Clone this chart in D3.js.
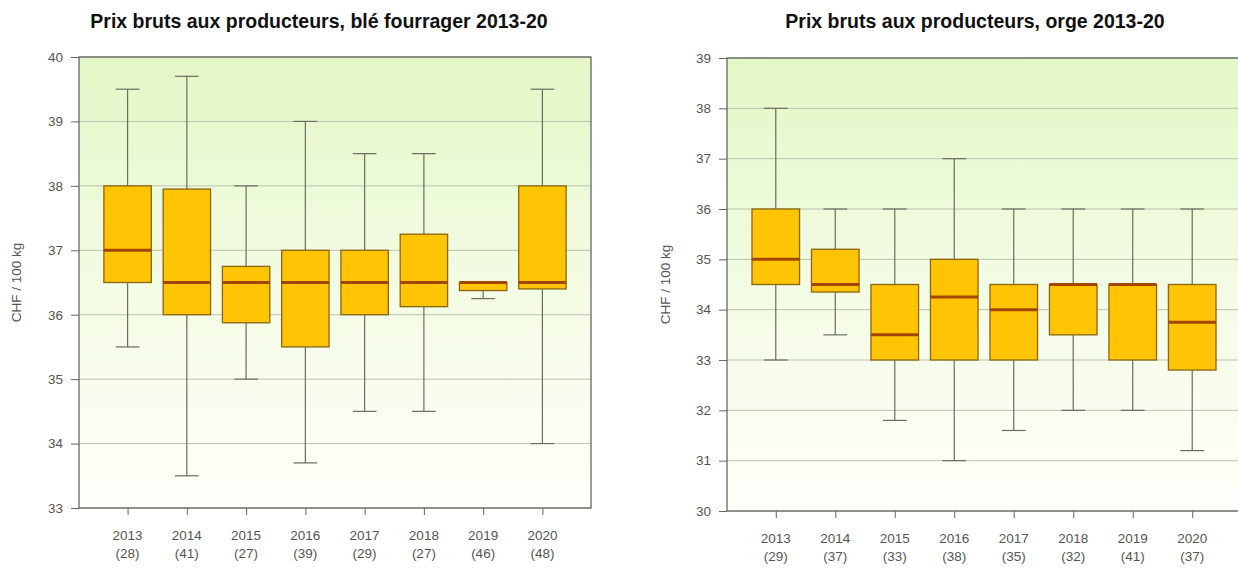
<!DOCTYPE html>
<html>
<head>
<meta charset="utf-8">
<script src="https://cdn.jsdelivr.net/npm/d3@7"></script>
<style>
  body { margin: 0; background: #fff; }
  svg { display: block; font-family: "Liberation Sans", Arial, sans-serif; }
  .tick text { fill: #555; font-size: 13.5px; }
  .title { font-weight: bold; font-size: 19.5px; fill: #111; }
  .ylab { font-size: 13.5px; fill: #555; }
</style>
</head>
<body>
<div id="chart"></div>
<script>
// Data //

let years = ["2013", "2014", "2015", "2016", "2017", "2018", "2019", "2020"];

let bleCounts = [28, 41, 27, 39, 29, 27, 46, 48];
let bleMin = [35.5, 33.5, 35.0, 33.7, 34.5, 34.5, 36.25, 34.0];
let bleQ1 = [36.5, 36.0, 35.875, 35.5, 36.0, 36.125, 36.375, 36.4];
let bleMed = [37.0, 36.5, 36.5, 36.5, 36.5, 36.5, 36.5, 36.5];
let bleQ3 = [38.0, 37.95, 36.75, 37.0, 37.0, 37.25, 36.5, 38.0];
let bleMax = [39.5, 39.7, 38.0, 39.0, 38.5, 38.5, 36.5, 39.5];

let orgeCounts = [29, 37, 33, 38, 35, 32, 41, 37];
let orgeMin = [33.0, 33.5, 31.8, 31.0, 31.6, 32.0, 32.0, 31.2];
let orgeQ1 = [34.5, 34.35, 33.0, 33.0, 33.0, 33.5, 33.0, 32.8];
let orgeMed = [35.0, 34.5, 33.5, 34.25, 34.0, 34.5, 34.5, 33.75];
let orgeQ3 = [36.0, 35.2, 34.5, 35.0, 34.5, 34.5, 34.5, 34.5];
let orgeMax = [38.0, 36.0, 36.0, 37.0, 36.0, 36.0, 36.0, 36.0];

let bleTicks = [33, 34, 35, 36, 37, 38, 39, 40];
let orgeTicks = [30, 31, 32, 33, 34, 35, 36, 37, 38, 39];

// Chart setup //

let SVGwidth = 1238,
    SVGheight = 569;

let svg = d3.select("#chart").append("svg")
    .attr("width", SVGwidth)
    .attr("height", SVGheight);

let defs = svg.append("defs");
let grad = defs.append("linearGradient")
    .attr("id", "bg")
    .attr("x1", 0).attr("y1", 0)
    .attr("x2", 0).attr("y2", 1);
grad.append("stop").attr("offset", "0%").attr("stop-color", "#e4f7c6");
grad.append("stop").attr("offset", "55%").attr("stop-color", "#f4fce6");
grad.append("stop").attr("offset", "100%").attr("stop-color", "#fffffa");

function buildRows(counts, mins, q1s, meds, q3s, maxs) {
    return years.map(function(y, i) {
        return {year: y, n: counts[i], min: mins[i], q1: q1s[i], med: meds[i], q3: q3s[i], max: maxs[i], pos: i + 1};
    });
}

function drawPanel(opt) {
    let g = svg.append("g");
    let data = opt.rows;

    let xScale = d3.scaleLinear().domain([0.18, 8.82]).range([opt.left, opt.right]);
    let yScale = d3.scaleLinear().domain(opt.yDomain).range([opt.bottom, opt.top]);

    // background
    g.append("rect")
        .attr("x", opt.left)
        .attr("y", opt.top)
        .attr("width", opt.right - opt.left)
        .attr("height", opt.bottom - opt.top)
        .style("fill", "url(#bg)");

    // grid
    g.selectAll(".grid")
        .data(opt.ticks)
        .enter().append("line")
        .attr("class", "grid")
        .attr("x1", opt.left)
        .attr("x2", opt.right)
        .attr("y1", function(d) { return yScale(d); })
        .attr("y2", function(d) { return yScale(d); })
        .style("stroke", "#b9c2ad")
        .style("stroke-width", 1);

    // boxes
    let boxW = xScale(0.8) - xScale(0);
    let capW = xScale(0.4) - xScale(0);
    let box = g.selectAll(".box")
        .data(data)
        .enter().append("g")
        .attr("class", "box");

    box.append("line")
        .attr("x1", function(d) { return xScale(d.pos); })
        .attr("x2", function(d) { return xScale(d.pos); })
        .attr("y1", function(d) { return yScale(d.max); })
        .attr("y2", function(d) { return yScale(d.min); })
        .style("stroke", "#6b6b62")
        .style("stroke-width", 1.2);

    box.append("line")
        .attr("x1", function(d) { return xScale(d.pos) - capW / 2; })
        .attr("x2", function(d) { return xScale(d.pos) + capW / 2; })
        .attr("y1", function(d) { return yScale(d.max); })
        .attr("y2", function(d) { return yScale(d.max); })
        .style("stroke", "#6b6b62")
        .style("stroke-width", 1.2);

    box.append("line")
        .attr("x1", function(d) { return xScale(d.pos) - capW / 2; })
        .attr("x2", function(d) { return xScale(d.pos) + capW / 2; })
        .attr("y1", function(d) { return yScale(d.min); })
        .attr("y2", function(d) { return yScale(d.min); })
        .style("stroke", "#6b6b62")
        .style("stroke-width", 1.2);

    box.append("rect")
        .attr("x", function(d) { return xScale(d.pos) - boxW / 2; })
        .attr("width", boxW)
        .attr("y", function(d) { return yScale(d.q3); })
        .attr("height", function(d) { return yScale(d.q1) - yScale(d.q3); })
        .style("fill", "#ffc505")
        .style("stroke", "#8a6512")
        .style("stroke-width", 1.3);

    box.append("line")
        .attr("x1", function(d) { return xScale(d.pos) - boxW / 2; })
        .attr("x2", function(d) { return xScale(d.pos) + boxW / 2; })
        .attr("y1", function(d) { return yScale(d.med); })
        .attr("y2", function(d) { return yScale(d.med); })
        .style("stroke", "#a34603")
        .style("stroke-width", 3);

    // frame
    g.append("rect")
        .attr("x", opt.left)
        .attr("y", opt.top)
        .attr("width", opt.right - opt.left)
        .attr("height", opt.bottom - opt.top)
        .style("fill", "none")
        .style("stroke", "#5a5a5a")
        .style("stroke-width", 1.2);

    // axes
    let yAxis = d3.axisLeft(yScale).tickValues(opt.ticks).tickSize(8).tickPadding(8).tickFormat(d3.format("d"));
    let ya = g.append("g")
        .attr("transform", "translate(" + opt.left + ",0)")
        .call(yAxis);
    ya.select(".domain").remove();
    ya.selectAll(".tick line").style("stroke", "#666");

    let xAxis = d3.axisBottom(xScale).tickValues(data.map(function(d) { return d.pos; })).tickSize(7).tickFormat("");
    let xa = g.append("g")
        .attr("transform", "translate(0," + opt.bottom + ")")
        .call(xAxis);
    xa.select(".domain").remove();
    xa.selectAll(".tick line").style("stroke", "#666");

    let labels = g.selectAll(".xlab")
        .data(data)
        .enter().append("text")
        .attr("class", "xlab")
        .attr("x", function(d) { return xScale(d.pos); })
        .attr("y", opt.bottom + 32)
        .style("text-anchor", "middle")
        .style("font-size", "13.5px")
        .style("fill", "#555");
    labels.append("tspan").text(function(d) { return d.year; });
    labels.append("tspan")
        .attr("x", function(d) { return xScale(d.pos); })
        .attr("dy", "1.3em")
        .text(function(d) { return "(" + d.n + ")"; });

    g.append("text")
        .attr("class", "ylab")
        .attr("transform", "translate(" + opt.ylabX + "," + ((opt.top + opt.bottom) / 2) + ") rotate(-90)")
        .style("text-anchor", "middle")
        .text("CHF / 100 kg");

    g.append("text")
        .attr("class", "title")
        .attr("x", opt.titleX)
        .attr("y", 28)
        .style("text-anchor", "middle")
        .text(opt.title);
}

drawPanel({
    rows: buildRows(bleCounts, bleMin, bleQ1, bleMed, bleQ3, bleMax),
    left: 79, right: 591, top: 57, bottom: 508,
    yDomain: [33, 40], ticks: bleTicks,
    ylabX: 21, titleX: 319,
    title: "Prix bruts aux producteurs, blé fourrager 2013-20"
});

drawPanel({
    rows: buildRows(orgeCounts, orgeMin, orgeQ1, orgeMed, orgeQ3, orgeMax),
    left: 727, right: 1241, top: 58, bottom: 511,
    yDomain: [30, 39], ticks: orgeTicks,
    ylabX: 670, titleX: 975,
    title: "Prix bruts aux producteurs, orge 2013-20"
});
</script>
</body>
</html>
